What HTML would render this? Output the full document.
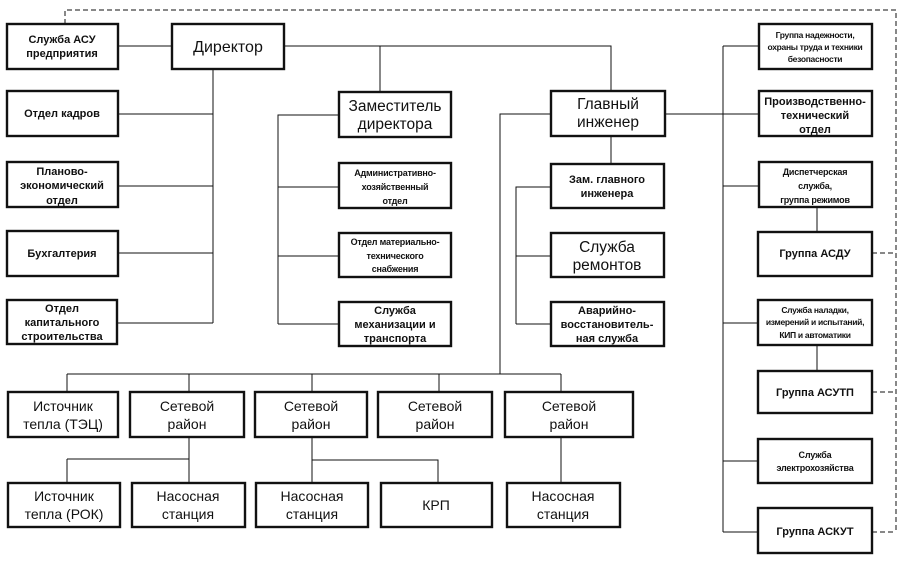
<!DOCTYPE html>
<html><head><meta charset="utf-8"><style>
html,body{margin:0;padding:0;background:#fff;}
svg{display:block}
text{font-family:"Liberation Sans",sans-serif;fill:#111;text-anchor:middle;}
.b{font-size:15.5px;}
.d{font-size:16px;}
.m{font-size:11px;font-weight:bold;}
.s{font-size:9px;font-weight:bold;letter-spacing:-0.2px;}
.t{font-size:8.5px;font-weight:bold;letter-spacing:-0.3px;}
.r{font-size:14px;}
</style></head><body>
<svg width="906" height="562" viewBox="0 0 906 562" xmlns="http://www.w3.org/2000/svg">
<g stroke="#111" stroke-width="1" fill="none">
<path d="M65,24 V10 H896 V532" stroke-dasharray="5,3"/>
<path d="M872,253 H896 M872,392 H896 M872,532 H896" stroke-dasharray="5,3"/>
<path d="M118,46 H172 M284,46 H611 V91 M380,46 V92"/>
<path d="M213,69 V323 M118,114 H213 M118,186 H213 M118,253 H213 M118,323 H213"/>
<path d="M339,115 H278 V324 M278,187 H339 M278,256 H339 M278,324 H339"/>
<path d="M611,136 V164 M551,187 H516 V324 M516,256 H551 M516,324 H551"/>
<path d="M551,114 H500 V374 M67,374 H561 M67,374 V392 M189,374 V392 M312,374 V392 M439,374 V392 M561,374 V392"/>
<path d="M665,114 H759 M723,46 V532 M723,46 H759 M723,186 H759 M723,323 H759 M723,461 H758 M723,532 H758"/>
<path d="M817,207 V232 M817,345 V371"/>
<path d="M189,437 V483 M67,459 H189 M67,459 V483 M312,437 V483 M312,460 H438 V483 M561,437 V483"/>
</g>
<g stroke="#111" stroke-width="2.4" fill="#fff">
<rect x="7" y="24" width="111" height="45"/>
<rect x="172" y="24" width="112" height="45"/>
<rect x="7" y="91" width="111" height="45"/>
<rect x="7" y="162" width="111" height="45"/>
<rect x="7" y="231" width="111" height="45"/>
<rect x="7" y="300" width="110" height="44"/>
<rect x="339" y="92" width="112" height="45"/>
<rect x="339" y="163" width="112" height="45"/>
<rect x="339" y="233" width="112" height="44"/>
<rect x="339" y="302" width="112" height="44"/>
<rect x="551" y="91" width="114" height="45"/>
<rect x="551" y="164" width="113" height="44"/>
<rect x="551" y="233" width="113" height="44"/>
<rect x="551" y="302" width="113" height="44"/>
<rect x="759" y="24" width="113" height="45"/>
<rect x="759" y="91" width="113" height="45"/>
<rect x="759" y="162" width="113" height="45"/>
<rect x="758" y="232" width="114" height="44"/>
<rect x="758" y="300" width="114" height="45"/>
<rect x="758" y="371" width="114" height="42"/>
<rect x="758" y="439" width="114" height="44"/>
<rect x="758" y="508" width="114" height="45"/>
<rect x="8" y="392" width="110" height="45"/>
<rect x="130" y="392" width="114" height="45"/>
<rect x="255" y="392" width="112" height="45"/>
<rect x="378" y="392" width="114" height="45"/>
<rect x="505" y="392" width="128" height="45"/>
<rect x="8" y="483" width="112" height="44"/>
<rect x="132" y="483" width="113" height="44"/>
<rect x="256" y="483" width="112" height="44"/>
<rect x="381" y="483" width="111" height="44"/>
<rect x="507" y="483" width="113" height="44"/>
</g>
<text class="m" x="62" y="43">Служба АСУ</text><text class="m" x="62" y="57">предприятия</text>
<text class="d" x="228" y="52">Директор</text>
<text class="m" x="62" y="117">Отдел кадров</text>
<text class="m" x="62" y="175">Планово-</text><text class="m" x="62" y="189">экономический</text><text class="m" x="62" y="204">отдел</text>
<text class="m" x="62" y="257">Бухгалтерия</text>
<text class="m" x="62" y="312">Отдел</text><text class="m" x="62" y="326">капитального</text><text class="m" x="62" y="340">строительства</text>
<text class="b" x="395" y="111">Заместитель</text><text class="b" x="395" y="129">директора</text>
<text class="s" x="395" y="176">Административно-</text><text class="s" x="395" y="190">хозяйственный</text><text class="s" x="395" y="204">отдел</text>
<text class="s" x="395" y="245">Отдел материально-</text><text class="s" x="395" y="259">технического</text><text class="s" x="395" y="272">снабжения</text>
<text class="m" x="395" y="314">Служба</text><text class="m" x="395" y="328">механизации и</text><text class="m" x="395" y="342">транспорта</text>
<text class="b" x="608" y="109">Главный</text><text class="b" x="608" y="127">инженер</text>
<text class="m" x="607" y="183">Зам. главного</text><text class="m" x="607" y="197">инженера</text>
<text class="b" x="607" y="252">Служба</text><text class="b" x="607" y="270">ремонтов</text>
<text class="m" x="607" y="314">Аварийно-</text><text class="m" x="607" y="328">восстановитель-</text><text class="m" x="607" y="342">ная служба</text>
<text class="t" x="815" y="38">Группа надежности,</text><text class="t" x="815" y="50">охраны труда и техники</text><text class="t" x="815" y="62">безопасности</text>
<text class="m" x="815" y="105">Производственно-</text><text class="m" x="815" y="119">технический</text><text class="m" x="815" y="133">отдел</text>
<text class="s" x="815" y="175">Диспетчерская</text><text class="s" x="815" y="189">служба,</text><text class="s" x="815" y="203">группа режимов</text>
<text class="m" x="815" y="257">Группа АСДУ</text>
<text class="t" x="815" y="313">Служба наладки,</text><text class="t" x="815" y="325">измерений и испытаний,</text><text class="t" x="815" y="338">КИП и автоматики</text>
<text class="m" x="815" y="396">Группа АСУТП</text>
<text class="s" x="815" y="458">Служба</text><text class="s" x="815" y="471">электрохозяйства</text>
<text class="m" x="815" y="535">Группа АСКУТ</text>
<text class="r" x="63" y="411">Источник</text><text class="r" x="63" y="429">тепла (ТЭЦ)</text>
<text class="r" x="187" y="411">Сетевой</text><text class="r" x="187" y="429">район</text>
<text class="r" x="311" y="411">Сетевой</text><text class="r" x="311" y="429">район</text>
<text class="r" x="435" y="411">Сетевой</text><text class="r" x="435" y="429">район</text>
<text class="r" x="569" y="411">Сетевой</text><text class="r" x="569" y="429">район</text>
<text class="r" x="64" y="501">Источник</text><text class="r" x="64" y="519">тепла (РОК)</text>
<text class="r" x="188" y="501">Насосная</text><text class="r" x="188" y="519">станция</text>
<text class="r" x="312" y="501">Насосная</text><text class="r" x="312" y="519">станция</text>
<text class="r" x="436" y="510">КРП</text>
<text class="r" x="563" y="501">Насосная</text><text class="r" x="563" y="519">станция</text>
</svg>
</body></html>
